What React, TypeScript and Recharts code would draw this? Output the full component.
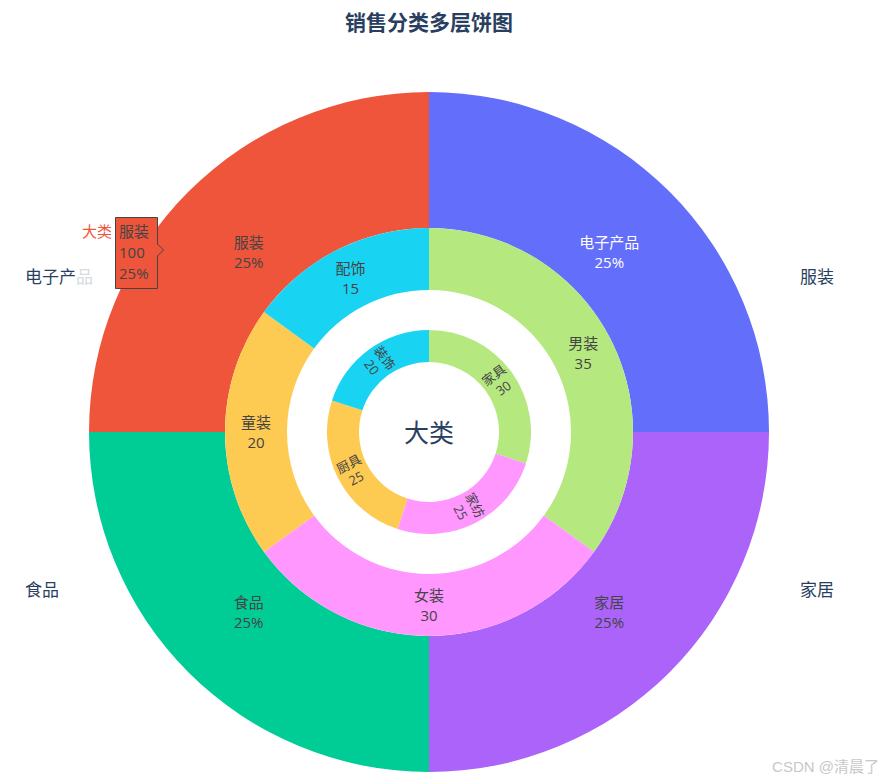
import React from 'react';
import { PieChart, Pie, Cell } from 'recharts';

const outerNames = ['电子产品', '家居', '食品', '服装'];
const outerValues = [100, 100, 100, 100];
const outerColors = ['#636efa', '#ab63fa', '#00cc96', '#ef553b'];

const midNames = ['男装', '女装', '童装', '配饰'];
const midValues = [35, 30, 20, 15];

const innerNames = ['家具', '家纺', '厨具', '装饰'];
const innerValues = [30, 25, 25, 20];

const subColors = ['#b6e880', '#ff97ff', '#fecb52', '#19d3f3'];

const sideLabels = ['服装', '家居', '食品', '电子产品'];

const FONT = '"Open Sans", "Noto Sans CJK SC", sans-serif';
const RAD = Math.PI / 180;
const CX = 429;
const CY = 432;

const outerData = outerNames.map((name, i) => ({ name, value: outerValues[i] }));
const midData = midNames.map((name, i) => ({ name, value: midValues[i] }));
const innerData = innerNames.map((name, i) => ({ name, value: innerValues[i] }));

const pos = (cx: number, cy: number, r: number, midAngle: number) => ({
  x: cx + r * Math.cos(-midAngle * RAD),
  y: cy + r * Math.sin(-midAngle * RAD),
});

const outerLabel = (p: any) => {
  const { x, y } = pos(p.cx, p.cy, 255, p.midAngle);
  const fill = p.index === 0 ? '#ffffff' : '#444444';
  return (
    <text x={x} y={y} textAnchor="middle" fill={fill} fontSize={15} fontFamily={FONT}>
      <tspan x={x} dy={-4}>{p.name}</tspan>
      <tspan x={x} dy={20}>{Math.round(p.percent * 100)}%</tspan>
    </text>
  );
};

const midLabel = (p: any) => {
  const { x, y } = pos(p.cx, p.cy, 173, p.midAngle);
  return (
    <text x={x} y={y} textAnchor="middle" fill="#444444" fontSize={15} fontFamily={FONT}>
      <tspan x={x} dy={-4}>{p.name}</tspan>
      <tspan x={x} dy={20}>{p.value}</tspan>
    </text>
  );
};

const innerLabel = (p: any) => {
  const { x, y } = pos(p.cx, p.cy, 86, p.midAngle);
  const phi = 90 - p.midAngle;
  let rot = phi - 90;
  while (rot > 90) rot -= 180;
  while (rot < -90) rot += 180;
  return (
    <text
      x={x}
      y={y}
      textAnchor="middle"
      fill="#444444"
      fontSize={13}
      fontFamily={FONT}
      transform={`rotate(${rot} ${x} ${y})`}
    >
      <tspan x={x} dy={-3}>{p.name}</tspan>
      <tspan x={x} dy={16}>{p.value}</tspan>
    </text>
  );
};

export default function App() {
  return (
    <div style={{ position: 'absolute', left: 0, top: 0, width: 885, height: 783, background: '#fff' }}>
      <PieChart width={885} height={783} margin={{ top: 0, right: 0, bottom: 0, left: 0 }}>
        <Pie
          data={outerData}
          dataKey="value"
          nameKey="name"
          cx={CX}
          cy={CY}
          startAngle={90}
          endAngle={-270}
          innerRadius={204}
          outerRadius={340}
          stroke="none"
          label={outerLabel}
          labelLine={false}
          isAnimationActive={false}
        >
          {outerData.map((d, i) => (
            <Cell key={d.name} fill={outerColors[i]} />
          ))}
        </Pie>
        <Pie
          data={midData}
          dataKey="value"
          nameKey="name"
          cx={CX}
          cy={CY}
          startAngle={90}
          endAngle={-270}
          innerRadius={142}
          outerRadius={204}
          stroke="none"
          label={midLabel}
          labelLine={false}
          isAnimationActive={false}
        >
          {midData.map((d, i) => (
            <Cell key={d.name} fill={subColors[i]} />
          ))}
        </Pie>
        <Pie
          data={innerData}
          dataKey="value"
          nameKey="name"
          cx={CX}
          cy={CY}
          startAngle={90}
          endAngle={-270}
          innerRadius={70}
          outerRadius={102}
          stroke="none"
          label={innerLabel}
          labelLine={false}
          isAnimationActive={false}
        >
          {innerData.map((d, i) => (
            <Cell key={d.name} fill={subColors[i]} />
          ))}
        </Pie>
      </PieChart>
      <svg
        width={885}
        height={783}
        style={{ position: 'absolute', left: 0, top: 0, pointerEvents: 'none' }}
        fontFamily={FONT}
      >
        <text x={429} y={30} textAnchor="middle" fontSize={21} fontWeight="bold" fill="#2a3f5f">
          销售分类多层饼图
        </text>
        <text x={429} y={442} textAnchor="middle" fontSize={25} fill="#2a3f5f">
          大类
        </text>
        <text x={800} y={283} fontSize={17} fill="#2a3f5f">{sideLabels[0]}</text>
        <text x={800} y={596} fontSize={17} fill="#2a3f5f">{sideLabels[1]}</text>
        <text x={25} y={596} fontSize={17} fill="#2a3f5f">{sideLabels[2]}</text>
        <text x={25} y={283} fontSize={17} fill="#2a3f5f">
          <tspan>{sideLabels[3].slice(0, 3)}</tspan>
          <tspan fill="#d5dae3">{sideLabels[3].slice(3)}</tspan>
        </text>
        <path d="M115.5,217.5 H157.5 V244 L163.5,250 L157.5,256 V288.5 H115.5 Z" fill="#ef553b" stroke="#444444" strokeWidth={1} />
        <text x={112} y={237} textAnchor="end" fontSize={15} fill="#ef553b">大类</text>
        <text x={119} y={237} fontSize={15} fill="#444444">{outerNames[3]}</text>
        <text x={119} y={258} fontSize={15} fill="#444444">{outerValues[3]}</text>
        <text x={119} y={279} fontSize={15} fill="#444444">25%</text>
        <text x={879} y={772} textAnchor="end" fontSize={15} fill="#c8c8c8" fontFamily="Arial, 'Noto Sans CJK SC', sans-serif">
          CSDN @清晨了
        </text>
      </svg>
    </div>
  );
}
